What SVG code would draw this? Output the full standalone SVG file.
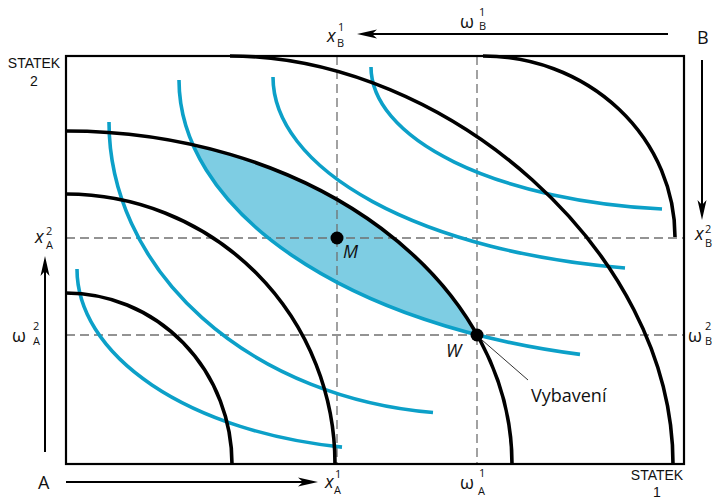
<svg xmlns="http://www.w3.org/2000/svg" width="713" height="500" viewBox="0 0 713 500">
<style>
.blk{fill:none;stroke:#000;stroke-width:3.6}
.blu{fill:none;stroke:#0ca0c8;stroke-width:3.6}
.dash{fill:none;stroke:#707070;stroke-width:1.3;stroke-dasharray:9 5}
.ax{fill:none;stroke:#000;stroke-width:2}
.sym{font-family:"Open Sans",sans-serif;font-size:18px;fill:#111}
.it{font-style:italic}
.ss{font-family:"Open Sans",sans-serif;font-size:11px;fill:#111}
.st{font-family:"Liberation Sans",Arial,sans-serif;font-size:14px;fill:#111;text-anchor:middle}
.lab{font-family:"Open Sans",sans-serif;font-size:18px;fill:#111}
</style>
<defs>
<marker id="ah" viewBox="0 -5 20 10" refX="5" refY="0" markerWidth="20" markerHeight="10" orient="auto" markerUnits="userSpaceOnUse">
<path d="M20,0 L0,-4.5 L5,0 L0,4.5 Z" fill="#000"/>
</marker>
<clipPath id="a3"><ellipse cx="66" cy="464" rx="446" ry="333"/></clipPath>
<clipPath id="box"><rect x="66" y="56" width="618" height="408"/></clipPath>
</defs>
<rect width="713" height="500" fill="#fff"/>
<g id="lens" clip-path="url(#box)">
<ellipse cx="700" cy="80" rx="521" ry="282" fill="#7ecde3" clip-path="url(#a3)"/>
</g>
<g id="guides">
<line class="dash" x1="66" y1="238" x2="684" y2="238"/>
<line class="dash" x1="66" y1="335" x2="684" y2="335"/>
<line class="dash" x1="337" y1="56" x2="337" y2="464"/>
<line class="dash" x1="477" y1="56" x2="477" y2="464"/>
</g>
<g id="blue-curves">
<path class="blu" d="M77,269 A323,181 0 0 0 342,447.1"/>
<path class="blu" d="M109,122 A361,292 0 0 0 433,412.5"/>
<path class="blu" d="M179,80 A521,282 0 0 0 580,354.4"/>
<path class="blu" d="M273,77 A427,194 0 0 0 625,268"/>
<path class="blu" d="M371,67 A329,143 0 0 0 662,209"/>
</g>
<g id="black-curves">
<path class="blk" d="M66,293 A166,171 0 0 1 232,464"/>
<path class="blk" d="M66,194 A269,270 0 0 1 335,464"/>
<path class="blk" d="M66,131 A446,333 0 0 1 512,464"/>
<path class="blk" d="M230,56 C445,56 673,250 673,464"/>
<path class="blk" d="M483,56 A192,181 0 0 1 675,237"/>
</g>
<rect id="frame" x="66" y="56" width="618" height="408" fill="none" stroke="#000" stroke-width="2.2"/>
<g id="connectors">
<line class="ax" x1="66" y1="482" x2="303" y2="482" marker-end="url(#ah)"/>
<line class="ax" x1="45" y1="452" x2="45" y2="271" marker-end="url(#ah)"/>
<line class="ax" x1="668" y1="34" x2="372" y2="34" marker-end="url(#ah)"/>
<line class="ax" x1="702" y1="60" x2="702" y2="205" marker-end="url(#ah)"/>
<line x1="482" y1="340" x2="528" y2="380" stroke="#333" stroke-width="1"/>
</g>
<g id="point-M">
<circle cx="337" cy="238" r="6.5" fill="#000"/>
<text class="sym it" x="343" y="258" font-size="16">M</text>
</g>
<g id="point-W">
<circle cx="477" cy="335" r="6.5" fill="#000"/>
<text class="sym it" x="446" y="357" font-size="16">W</text>
</g>
<text class="lab" x="531" y="402">Vybavení</text>
<g id="labels">
<text class="st" x="34" y="68">STATEK</text>
<text class="st" x="34" y="86">2</text>
<text class="st" x="657" y="480">STATEK</text>
<text class="st" x="657" y="497">1</text>
<text class="lab" x="697" y="44">B</text>
<text class="lab" x="38" y="489">A</text>
<!-- top -->
<text class="sym it" x="327" y="42">x</text>
<text class="ss" x="338" y="31">1</text>
<text class="ss" x="337" y="47">B</text>
<text class="sym" x="460" y="28">ω</text>
<text class="ss" x="479" y="16">1</text>
<text class="ss" x="479" y="30">B</text>
<!-- left -->
<text class="sym it" x="35" y="243">x</text>
<text class="ss" x="46" y="235">2</text>
<text class="ss" x="46" y="249">A</text>
<text class="sym" x="12" y="342">ω</text>
<text class="ss" x="33" y="330">2</text>
<text class="ss" x="33" y="345">A</text>
<!-- right -->
<text class="sym it" x="695" y="240">x</text>
<text class="ss" x="705" y="233">2</text>
<text class="ss" x="705" y="247">B</text>
<text class="sym" x="688" y="342">ω</text>
<text class="ss" x="705" y="330">2</text>
<text class="ss" x="705" y="345">B</text>
<!-- bottom -->
<text class="sym it" x="325" y="488">x</text>
<text class="ss" x="335" y="478">1</text>
<text class="ss" x="334" y="494">A</text>
<text class="sym" x="460" y="489">ω</text>
<text class="ss" x="479" y="477">1</text>
<text class="ss" x="478" y="495">A</text>
</g>
</svg>
